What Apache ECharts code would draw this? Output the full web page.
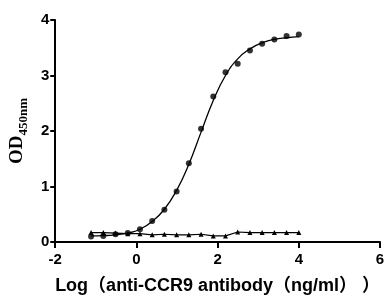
<!DOCTYPE html>
<html><head><meta charset="utf-8">
<script src="https://cdn.jsdelivr.net/npm/echarts@6/dist/echarts.min.js"></script>
<style>html,body{margin:0;padding:0;background:#fff}#c{width:390px;height:300px}</style>
</head><body><div id="c"></div>
<script>
var logConc = [-1.117,-0.816,-0.515,-0.214,0.087,0.388,0.689,0.990,1.291,1.592,1.893,2.194,2.495,2.796,3.097,3.398,3.699,4.000];
var odSample = [0.10,0.11,0.14,0.16,0.23,0.38,0.58,0.91,1.42,2.04,2.62,3.06,3.21,3.45,3.57,3.65,3.71,3.74];
var odControl = [0.17,0.17,0.16,0.15,0.15,0.13,0.14,0.13,0.13,0.14,0.11,0.11,0.18,0.17,0.17,0.17,0.17,0.17];
var fitCurve = [0.11,0.115,0.13,0.16,0.23,0.37,0.59,0.93,1.40,1.98,2.55,3.00,3.30,3.48,3.59,3.65,3.68,3.70];
var xTicks = [-2,0,2,4,6];
var yTicks = [0,1,2,3,4];

function pairs(ys){return logConc.map(function(x,i){return [x,ys[i]];});}
var FONT = '"Liberation Sans", Arial, "Noto Sans CJK SC", sans-serif';
var SERIF = '"Liberation Serif","Times New Roman",serif';
var chart = echarts.init(document.getElementById('c'));
chart.setOption({
  animation:false,
  backgroundColor:'#fff',
  grid:{left:47,right:10,top:20,bottom:58},
  xAxis:{type:'value',min:xTicks[0],max:xTicks[xTicks.length-1],interval:2,
    axisLine:{onZero:false,lineStyle:{color:'#000',width:2}},
    axisTick:{length:6,lineStyle:{color:'#000',width:2}},
    splitLine:{show:false},
    axisLabel:{color:'#000',fontWeight:'bold',fontSize:15,fontFamily:FONT,margin:10},
    name:'Log（anti-CCR9 antibody（ng/ml） ）',nameLocation:'middle',nameGap:35,
    nameTextStyle:{color:'#000',fontWeight:'bold',fontSize:18,fontFamily:FONT}
  },
  yAxis:{type:'value',min:yTicks[0],max:yTicks[yTicks.length-1],interval:1,
    axisLine:{onZero:false,lineStyle:{color:'#000',width:2}},
    axisTick:{length:5,lineStyle:{color:'#000',width:2}},
    splitLine:{show:false},
    axisLabel:{color:'#000',fontWeight:'bold',fontSize:15,fontFamily:FONT,margin:6},
    name:'{a|OD}{b|450nm}',nameLocation:'middle',nameGap:26,nameRotate:90,
    nameTextStyle:{rich:{
      a:{color:'#000',fontWeight:'bold',fontSize:19,fontFamily:SERIF,verticalAlign:'bottom'},
      b:{color:'#000',fontWeight:'bold',fontSize:13,fontFamily:SERIF,verticalAlign:'bottom',padding:[0,0,-3,0]}
    }}
  },
  series:[
    {type:'line',data:pairs(fitCurve),smooth:0.5,symbol:'none',lineStyle:{color:'#000',width:1.3},z:2},
    {type:'scatter',data:pairs(odSample),symbol:'circle',symbolSize:6,itemStyle:{color:'#000'},z:3},
    {type:'line',data:pairs(odControl),symbol:'triangle',symbolSize:5,itemStyle:{color:'#000'},lineStyle:{color:'#000',width:1.2},z:3}
  ]
});
</script></body></html>
